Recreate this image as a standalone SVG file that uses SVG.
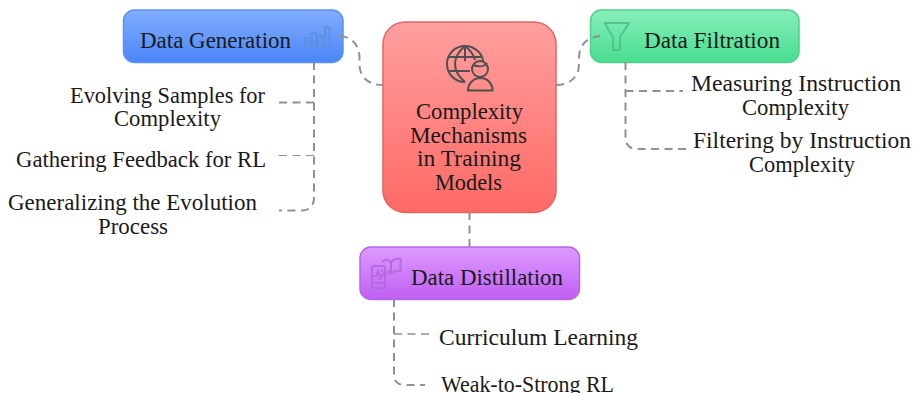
<svg xmlns="http://www.w3.org/2000/svg" width="913" height="393" viewBox="0 0 913 393">
<style>
text{font-family:"Liberation Serif","DejaVu Serif",serif;font-size:23px;fill:#1a1a1a}
.c{fill:none;stroke:#919191;stroke-width:2;stroke-dasharray:8 5.500}
.box{stroke-width:1.500}
.ic{fill:none;stroke-width:2}
</style>
<defs>
<linearGradient id="gb" x1="0" y1="0" x2="0" y2="1"><stop offset="0" stop-color="#82adff"/><stop offset="1" stop-color="#4a86f8"/></linearGradient>
<linearGradient id="gr" x1="0" y1="0" x2="0" y2="1"><stop offset="0" stop-color="#ff9f9f"/><stop offset="1" stop-color="#ff6a65"/></linearGradient>
<linearGradient id="gg" x1="0" y1="0" x2="0" y2="1"><stop offset="0" stop-color="#88efb9"/><stop offset="1" stop-color="#48dd90"/></linearGradient>
<linearGradient id="gp" x1="0" y1="0" x2="0" y2="1"><stop offset="0" stop-color="#de9bff"/><stop offset="1" stop-color="#bf5ff2"/></linearGradient>
</defs>
<g id="node-generation">
<rect class="box" x="123.500" y="10" width="219.500" height="52.500" rx="11" fill="url(#gb)" stroke="#5a93ee"/>
<text x="140" y="48" textLength="151" lengthAdjust="spacingAndGlyphs">Data Generation</text>
<g class="ic" stroke="#5f8fe0"><path d="M303 46H331M305 46V38H309V46M311.500 46V33H316V46M318 46V36H322V46M325 46V27.500H329.500V46"/></g>
</g>
<g id="node-center">
<rect class="box" x="383" y="22" width="173" height="190.500" rx="22" fill="url(#gr)" stroke="#e06565"/>
<g class="ic" stroke="#4f4f4f">
<path d="M465 82C455 82 447 74 447 64C447 54 455 46 465 46C475 46 483 54 483 62"/>
<path d="M465 46C458 52 455 58 455 64C455 71 459 77 465 82M465 46C470 50 474 55 475 60M465 46V61"/>
<path d="M448 57H481M448 71H470"/>
<circle cx="480" cy="69" r="8"/><path d="M473 65C478 67 484 67 487 63"/>
<path d="M468 90.500C468 83 474 78 480.500 78C487 78 492.500 83 492.500 90.500Z"/>
</g>
<text x="416" y="119" textLength="107" lengthAdjust="spacingAndGlyphs">Complexity</text>
<text x="410" y="142.500" textLength="117" lengthAdjust="spacingAndGlyphs">Mechanisms</text>
<text x="417" y="166" textLength="104" lengthAdjust="spacingAndGlyphs">in Training</text>
<text x="435" y="189.500" textLength="67" lengthAdjust="spacingAndGlyphs">Models</text>
</g>
<g id="node-filtration">
<rect class="box" x="590.500" y="10" width="208.500" height="52.500" rx="11" fill="url(#gg)" stroke="#4fd08f"/>
<path class="ic" stroke="#50c48a" stroke-linejoin="round" d="M604.500 23H629L620 37V50H613V37Z"/>
<text x="644" y="48" textLength="136" lengthAdjust="spacingAndGlyphs">Data Filtration</text>
</g>
<g id="node-distillation">
<rect class="box" x="360" y="247" width="219.500" height="52.500" rx="11" fill="url(#gp)" stroke="#b565e2"/>
<g class="ic" stroke="#b56ae0">
<rect x="372" y="266" width="13" height="22" rx="2"/><path d="M372 283H385M373 276L376 276L378 271L380 279L382 275H385"/>
<path d="M382 262C385 259 388 259 391 262C394 259 397 258 400.500 259V271C397 270 394 271 391 273L389 274"/><path d="M391 262V272M381 270L386 274L390 270"/>
</g>
<text x="411" y="285" textLength="152" lengthAdjust="spacingAndGlyphs">Data Distillation</text>
</g>
<g id="labels">
<text x="70" y="103" textLength="195" lengthAdjust="spacingAndGlyphs">Evolving Samples for</text>
<text x="114" y="126" textLength="107" lengthAdjust="spacingAndGlyphs">Complexity</text>
<text x="16" y="167" textLength="250" lengthAdjust="spacingAndGlyphs">Gathering Feedback for RL</text>
<text x="8" y="210" textLength="249" lengthAdjust="spacingAndGlyphs">Generalizing the Evolution</text>
<text x="98" y="234" textLength="70" lengthAdjust="spacingAndGlyphs">Process</text>
<text x="691" y="91" textLength="210" lengthAdjust="spacingAndGlyphs">Measuring Instruction</text>
<text x="742" y="114.500" textLength="107" lengthAdjust="spacingAndGlyphs">Complexity</text>
<text x="693" y="148" textLength="218" lengthAdjust="spacingAndGlyphs">Filtering by Instruction</text>
<text x="749" y="172" textLength="106" lengthAdjust="spacingAndGlyphs">Complexity</text>
<text x="439" y="345" textLength="199" lengthAdjust="spacingAndGlyphs">Curriculum Learning</text>
<text x="441" y="392" textLength="173" lengthAdjust="spacingAndGlyphs">Weak-to-Strong RL</text>
</g>
<g id="connectors">
<path class="c" d="M340 36C352 37 359.500 45 359.500 58V64C359.500 77 368 85 383 85"/>
<path class="c" d="M556 85C570 85 579 77 579 64V58C579 45 587 37 600 36"/>
<path class="c" d="M469.500 212V247"/>
<path class="c" d="M314 62V198C314 206 309 210.500 302 210.500H279"/>
<path class="c" d="M314 102.500H279"/>
<path class="c" style="stroke-width:1.200" d="M314 155.500H279"/>
<path class="c" d="M625.500 62V138C625.500 145 630 149 637 149H686"/>
<path class="c" d="M625.500 91H683"/>
<path class="c" d="M394 299V376C394 381 398 385 404 385H425"/>
<path class="c" style="stroke-width:1.500" d="M394 334H430"/>
</g>
</svg>
